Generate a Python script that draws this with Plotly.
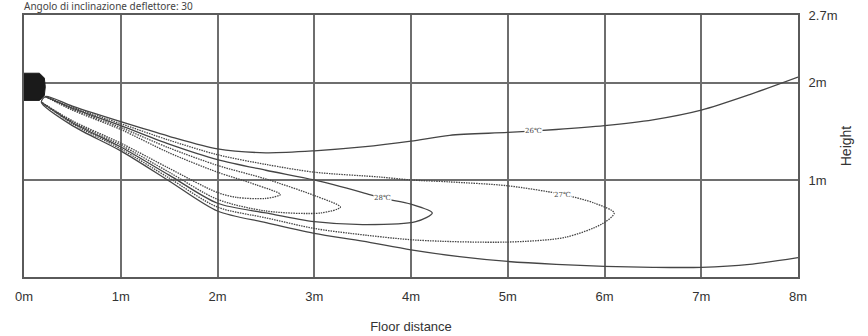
import plotly.graph_objects as go

# ---- data (metres) ----
x_ticks = [0, 1, 2, 3, 4, 5, 6, 7, 8]
x_tick_labels = ["0m", "1m", "2m", "3m", "4m", "5m", "6m", "7m", "8m"]
y_ticks = [1, 2, 2.7]
y_tick_labels = ["1m", "2m", "2.7m"]

# 26°C contour (open: exits at the right edge, top and bottom)
c26_x = [8.0, 7.5, 7.0, 6.5, 6.0, 5.5, 5.0, 4.4, 4.0, 3.5, 3.0, 2.5, 2.0, 1.5, 1.0, 0.5, 0.22,
         0.18, 0.5, 1.0, 1.5, 2.0, 2.5, 3.0, 3.5, 4.0, 4.5, 5.0, 5.5, 6.0, 6.5, 7.0, 7.5, 8.0]
c26_y = [2.06, 1.88, 1.72, 1.62, 1.56, 1.52, 1.49, 1.46, 1.40, 1.34, 1.30, 1.28, 1.32, 1.45, 1.60, 1.76, 1.86,
         1.80, 1.56, 1.30, 0.99, 0.68, 0.56, 0.45, 0.37, 0.28, 0.21, 0.16, 0.13, 0.11, 0.10, 0.10, 0.13, 0.20]

# 27°C contour
c27_x = [0.22, 0.5, 1.0, 1.5, 2.0, 2.5, 3.0, 3.68, 4.0, 4.4, 5.0, 5.57, 5.9, 6.1,
         5.98, 5.6, 5.0, 4.06, 3.37, 3.0, 2.5, 2.0, 1.5, 1.0, 0.5, 0.18]
c27_y = [1.86, 1.75, 1.58, 1.41, 1.26, 1.16, 1.08, 1.03, 1.00, 0.98, 0.94, 0.85, 0.76, 0.66,
         0.55, 0.41, 0.36, 0.38, 0.45, 0.50, 0.61, 0.72, 1.02, 1.32, 1.58, 1.80]

# 28°C contour
c28_x = [0.22, 0.5, 1.0, 1.5, 2.0, 2.5, 3.0, 3.5, 3.71, 4.0, 4.22,
         4.05, 3.5, 3.0, 2.5, 2.0, 1.5, 1.0, 0.5, 0.18]
c28_y = [1.86, 1.74, 1.56, 1.37, 1.21, 1.10, 1.00, 0.87, 0.81, 0.75, 0.66,
         0.57, 0.54, 0.57, 0.66, 0.76, 1.05, 1.34, 1.59, 1.80]

# 29°C contour
c29_x = [0.22, 0.5, 1.0, 1.5, 2.0, 2.5, 3.0, 3.27, 3.07, 2.5, 2.0, 1.5, 1.0, 0.5, 0.18]
c29_y = [1.86, 1.73, 1.54, 1.33, 1.15, 1.01, 0.84, 0.72, 0.66, 0.68, 0.80, 1.08, 1.36, 1.60, 1.80]

# 30°C contour
c30_x = [0.22, 0.5, 1.0, 1.5, 2.0, 2.4, 2.65, 2.5, 2.2, 2.0, 1.5, 1.0, 0.5, 0.18]
c30_y = [1.86, 1.72, 1.52, 1.28, 1.08, 0.95, 0.85, 0.81, 0.82, 0.87, 1.12, 1.38, 1.61, 1.80]

# outlet (dark blob on the wall)
source_x = [0.0, 0.16, 0.21, 0.22, 0.21, 0.16, 0.0]
source_y = [2.10, 2.10, 2.05, 1.96, 1.87, 1.82, 1.82]

labels = ["26℃", "27℃", "28℃"]
label_x = [5.27, 5.57, 3.71]
label_y = [1.505, 0.85, 0.81]

LINE = "#454545"
fig = go.Figure()

fig.add_trace(go.Scatter(x=source_x, y=source_y, mode="lines", fill="toself",
                         fillcolor="#1a1a1a", line=dict(color="#1a1a1a", width=1),
                         hoverinfo="skip", showlegend=False))

for xs, ys, dash in [(c26_x, c26_y, "solid"), (c27_x, c27_y, "1.5px,1px"),
                     (c28_x, c28_y, "solid"), (c29_x, c29_y, "1.5px,1px"),
                     (c30_x, c30_y, "1.5px,1px")]:
    fig.add_trace(go.Scatter(x=xs, y=ys, mode="lines",
                             line=dict(color=LINE, width=1.3, dash=dash, shape="spline", smoothing=0.8),
                             hoverinfo="skip", showlegend=False))

for t, lx, ly in zip(labels, label_x, label_y):
    fig.add_annotation(x=lx, y=ly, text=t, showarrow=False,
                       font=dict(family="DejaVu Serif", size=7, color="#444"),
                       bgcolor="white", borderpad=0)

fig.add_annotation(xref="paper", yref="paper", x=0, y=1, xanchor="left", yanchor="bottom",
                   xshift=-2, yshift=0, showarrow=False,
                   text="Angolo di inclinazione deflettore: 30",
                   font=dict(family="Noto Sans", size=10, color="#444"))

fig.update_xaxes(range=[0, 8], tickvals=x_ticks, ticktext=x_tick_labels,
                 showgrid=True, gridcolor="#6e6e6e", gridwidth=1.5,
                 showline=True, linecolor="#5a5a5a", linewidth=2, mirror=True,
                 zeroline=False, ticks="", ticklabelstandoff=6, automargin=False,
                 tickfont=dict(family="Liberation Sans", size=13, color="#333"),
                 title=dict(text="Floor distance", standoff=19,
                            font=dict(family="Liberation Sans", size=13, color="#333")))
fig.update_yaxes(range=[0, 2.7], tickvals=y_ticks, ticktext=y_tick_labels, side="right",
                 showgrid=True, gridcolor="#6e6e6e", gridwidth=1.5,
                 showline=True, linecolor="#5a5a5a", linewidth=2, mirror=True,
                 zeroline=False, ticks="", ticklabelstandoff=6, automargin=False,
                 tickfont=dict(family="Liberation Sans", size=13, color="#333"),
                 title=dict(text="Height", standoff=5,
                            font=dict(family="Liberation Sans", size=14, color="#333")))

fig.update_layout(width=868, height=336, margin=dict(l=24, r=70, t=15, b=59),
                  plot_bgcolor="white", paper_bgcolor="white")

fig.write_html("out.html", config={"displayModeBar": False},
               post_script="document.body.style.margin='0';")
